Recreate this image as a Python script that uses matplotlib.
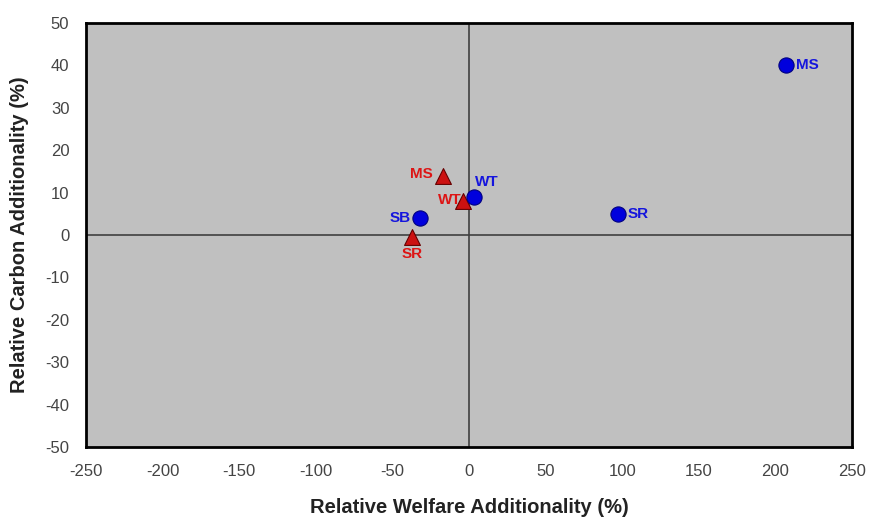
import matplotlib
matplotlib.use("Agg")
import matplotlib.pyplot as plt

plt.rcParams['font.family'] = ['Liberation Sans', 'DejaVu Sans']
plt.rcParams['axes.unicode_minus'] = False

# blue circles
circle_names = ['MS', 'SR', 'WT', 'SB']
circle_x = [207, 97, 3, -32]
circle_y = [40, 5, 9, 4]

# red triangles
tri_names = ['MS', 'WT', 'SR']
tri_x = [-17, -4, -37]
tri_y = [14, 8, -0.5]

xticks = list(range(-250, 251, 50))
yticks = list(range(-50, 51, 10))

fig = plt.figure(figsize=(8.72, 5.23), dpi=100)
ax = fig.add_axes([86 / 872, 76 / 523, 766 / 872, 424 / 523])
ax.set_facecolor('#C0C0C0')

ax.axhline(0, color='#404040', linewidth=1.2, zorder=1)
ax.axvline(0, color='#404040', linewidth=1.2, zorder=1)

ax.scatter(tri_x, tri_y, marker='^', s=130, color='#CC1111', edgecolors='#660000',
           linewidths=0.8, zorder=3)
ax.scatter(circle_x, circle_y, marker='o', s=120, color='#0000DD', edgecolors='#000080',
           linewidths=0.8, zorder=4)

# point labels
c_off = {'MS': (7, 0, 'left', 'center'), 'SR': (7, 0, 'left', 'center'),
         'WT': (1, 6, 'left', 'bottom'), 'SB': (-7, 0, 'right', 'center')}
for n, x, y in zip(circle_names, circle_x, circle_y):
    dx, dy, ha, va = c_off[n]
    ax.annotate(n, (x, y), xytext=(dx, dy), textcoords='offset points', ha=ha, va=va,
                color='#1515DD', fontsize=11, fontweight='bold', zorder=5)

t_off = {'MS': (-7, 1, 'right', 'center'), 'WT': (-1, 1, 'right', 'center'),
         'SR': (0, -7, 'center', 'top')}
for n, x, y in zip(tri_names, tri_x, tri_y):
    dx, dy, ha, va = t_off[n]
    ax.annotate(n, (x, y), xytext=(dx, dy), textcoords='offset points', ha=ha, va=va,
                color='#DD1515', fontsize=11, fontweight='bold', zorder=5)

ax.set_xlim(-250, 250)
ax.set_ylim(-50, 50)
ax.set_xticks(xticks)
ax.set_yticks(yticks)
ax.tick_params(length=0, labelsize=12, labelcolor='#444444')
ax.tick_params(axis='x', pad=12)
ax.tick_params(axis='y', pad=12)
for sp in ax.spines.values():
    sp.set_linewidth(2)
    sp.set_color('black')

ax.set_xlabel('Relative Welfare Additionality (%)', fontsize=14.5, fontweight='bold',
              color='#222222', labelpad=14)
ax.set_ylabel('Relative Carbon Additionality (%)', fontsize=14.5, fontweight='bold',
              color='#222222', labelpad=12)

fig.savefig('out.png', dpi=100)
